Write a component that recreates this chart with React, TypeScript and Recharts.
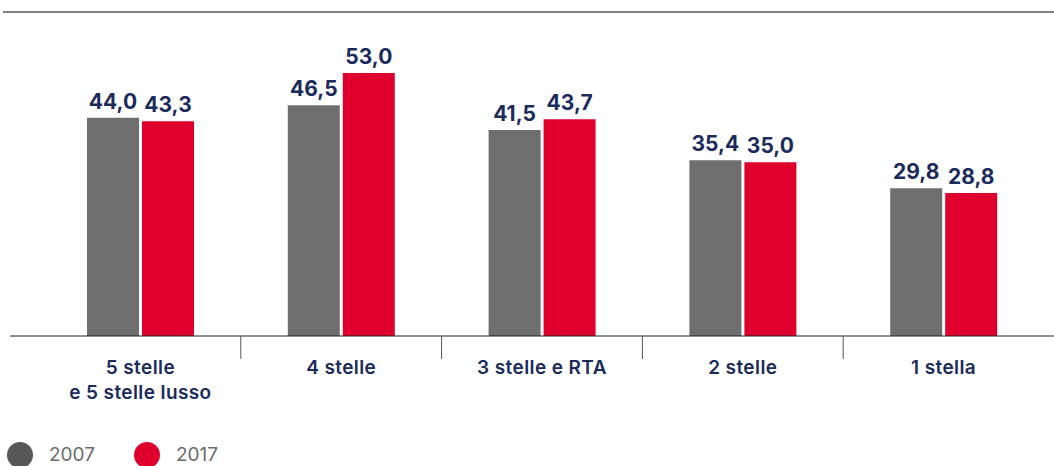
import React from 'react';
import { BarChart, Bar, XAxis, YAxis, LabelList } from 'recharts';

const categories = ['5 stelle\ne 5 stelle lusso', '4 stelle', '3 stelle e RTA', '2 stelle', '1 stella'];
const values2007 = [44.0, 46.5, 41.5, 35.4, 29.8];
const values2017 = [43.3, 53.0, 43.7, 35.0, 28.8];
const seriesNames = ['2007', '2017'];
const seriesColors = ['#6e6e6e', '#e0002d'];
const legendColors = ['#575757', '#e0002d'];

const data = categories.map((c, i) => ({ name: c, v2007: values2007[i], v2017: values2017[i] }));

const W = 1054;
const H = 466;
const M = { top: 11, right: 0, left: 10, bottom: 0 };
const PAD = { left: 30, right: 10 };
const NAVY = '#1b2b5c';
const FONT = 'Inter, "Noto Sans", sans-serif';
const bandW = (W - M.left - M.right - PAD.left - PAD.right) / categories.length;

const fmt = (v: any) => Number(v).toFixed(1).replace('.', ',');

const CatTick = (props: any) => {
  const { x, y, payload, index } = props;
  const lines = String(payload.value).split('\n');
  return (
    <g>
      {index > 0 && (
        <line x1={x - bandW / 2} x2={x - bandW / 2} y1={y} y2={y + 23} stroke="#555" strokeWidth={1} />
      )}
      <text textAnchor="middle" fill={NAVY} fontSize={19} fontWeight={600} letterSpacing={0.4} fontFamily={FONT}>
        {lines.map((l, i) => (
          <tspan key={i} x={x} y={y + 38 + i * 25}>{l}</tspan>
        ))}
      </text>
    </g>
  );
};

export default function App() {
  return (
    <div style={{ position: 'absolute', left: 0, top: 0, width: W, height: H, background: '#fff', fontFamily: FONT, overflow: 'hidden' }}>
      <div style={{ position: 'absolute', left: 3, top: 11, width: W - 3, height: 2, background: '#808080' }} />
      <BarChart width={W} height={H} data={data} margin={M} barSize={52} barGap={3}>
        <YAxis hide domain={[0, 65.5]} />
        <XAxis
          dataKey="name"
          height={130}
          padding={PAD}
          tickLine={false}
          tickSize={0}
          tickMargin={0}
          axisLine={{ stroke: '#222', strokeWidth: 1 }}
          interval={0}
          tick={<CatTick />}
        />
        <Bar dataKey="v2007" name={seriesNames[0]} fill={seriesColors[0]} isAnimationActive={false}>
          <LabelList dataKey="v2007" position="top" offset={9} formatter={fmt} fill={NAVY} fontSize={21} fontWeight={700} fontFamily={FONT} />
        </Bar>
        <Bar dataKey="v2017" name={seriesNames[1]} fill={seriesColors[1]} isAnimationActive={false}>
          <LabelList dataKey="v2017" position="top" offset={9} formatter={fmt} fill={NAVY} fontSize={21} fontWeight={700} fontFamily={FONT} />
        </Bar>
      </BarChart>
      <div style={{ position: 'absolute', left: 7, top: 442, height: 26, display: 'flex', alignItems: 'center' }}>
        {seriesNames.map((n, i) => (
          <div key={n} style={{ display: 'flex', alignItems: 'center', marginRight: 39 }}>
            <div style={{ width: 26, height: 26, borderRadius: 13, background: legendColors[i] }} />
            <span style={{ marginLeft: 16, fontSize: 19, color: '#6b6b6b', lineHeight: '26px' }}>{n}</span>
          </div>
        ))}
      </div>
    </div>
  );
}
